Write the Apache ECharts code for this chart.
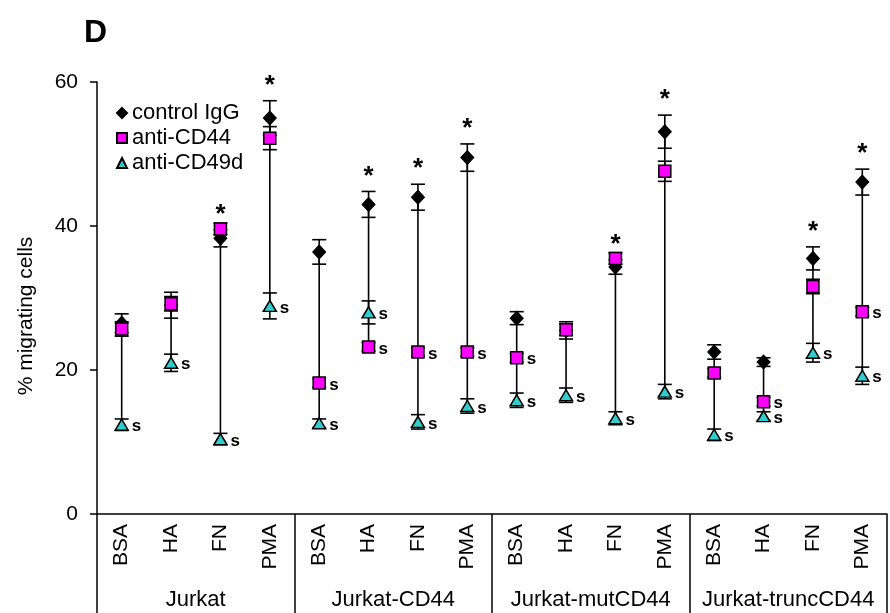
<!DOCTYPE html>
<html>
<head>
<meta charset="utf-8">
<script src="https://cdn.jsdelivr.net/npm/echarts@6/dist/echarts.min.js"></script>
<style>
  html, body { margin: 0; padding: 0; background: #fff; }
  #chart { width: 890px; height: 613px; }
</style>
</head>
<body>
<div id="chart"></div>
<script>
const categories = ['BSA','HA','FN','PMA','BSA','HA','FN','PMA','BSA','HA','FN','PMA','BSA','HA','FN','PMA'];
const groups = ['Jurkat','Jurkat-CD44','Jurkat-mutCD44','Jurkat-truncCD44'];
const yTicks = [0, 20, 40, 60];

const controlIgG    = [26.5, 29.0, 38.3, 55.0,  36.4, 43.0, 44.0, 49.5,  27.2, 25.5, 34.3, 53.1,  22.5, 21.1, 35.5, 46.1];
const controlErr    = [ 1.3,  1.8,  1.2,  2.4,   1.7,  1.8,  1.8,  1.9,   0.9,  1.2,  1.0,  2.3,   1.0,  0.6,  1.6,  1.8];
const antiCD44      = [25.7, 29.2, 39.6, 52.2,  18.2, 23.2, 22.5, 22.5,  21.7, 25.6, 35.5, 47.6,  19.6, 15.6, 31.6, 28.1];
const antiCD44Err   = [ 1.0,  1.0,  0.8,  1.6,   0.6,  0.6,  0.6,  0.6,   0.6,  0.8,  0.8,  1.4,   0.6,  0.6,  1.0,  0.6];
const antiCD49d     = [12.4, 21.0, 10.4, 28.9,  12.6, 28.0, 12.8, 15.0,  15.8, 16.5, 13.3, 17.0,  11.0, 13.6, 22.4, 19.2];
const antiCD49dErr  = [ 0.8,  1.2,  0.8,  1.8,   0.6,  1.6,  1.0,  1.0,   1.0,  1.0,  0.9,  1.0,   0.8,  0.6,  1.3,  1.2];

const starControl   = [0,0,1,1, 0,1,1,1, 0,0,1,1, 0,0,1,1];
const sAntiCD44     = [0,0,0,0, 1,1,1,1, 1,0,0,0, 0,1,0,1];
const sAntiCD49d    = [1,1,1,1, 1,1,1,1, 1,1,1,1, 1,1,1,1];

const FONT = '"Liberation Sans", Arial, sans-serif';

function errSeries(name, vals, errs, flags, mark) {
  return {
    type: 'custom',
    name: name,
    z: 2,
    silent: true,
    data: vals.map((v, i) => [i, v, errs[i], flags[i]]),
    renderItem: function (params, api) {
      const i = api.value(0), v = api.value(1), e = api.value(2), f = api.value(3);
      const top = api.coord([i, v + e]);
      const bot = api.coord([i, v - e]);
      const mid = api.coord([i, v]);
      const hw = 7;
      const ls = { stroke: '#000', lineWidth: 1.6 };
      const children = [
        { type: 'line', shape: { x1: top[0], y1: top[1], x2: bot[0], y2: bot[1] }, style: ls },
        { type: 'line', shape: { x1: top[0] - hw, y1: top[1], x2: top[0] + hw, y2: top[1] }, style: ls },
        { type: 'line', shape: { x1: bot[0] - hw, y1: bot[1], x2: bot[0] + hw, y2: bot[1] }, style: ls }
      ];
      if (f && mark === '*') {
        children.push({ type: 'text', z2: 10, style: { text: '*', x: top[0], y: top[1] - 2, align: 'center', verticalAlign: 'bottom', font: 'bold 26px ' + FONT, fill: '#000' } });
      }
      if (f && mark === 's') {
        children.push({ type: 'text', z2: 10, style: { text: 's', x: mid[0] + 10, y: mid[1] + 2, align: 'left', verticalAlign: 'middle', font: 'bold 17px ' + FONT, fill: '#000' } });
      }
      return { type: 'group', children: children };
    }
  };
}

const chart = echarts.init(document.getElementById('chart'), null, { renderer: 'canvas' });
const option = {
  animation: false,
  backgroundColor: '#fff',
  grid: { left: 97, right: 3, top: 82, bottom: 99 },
  legend: {
    data: ['control IgG', 'anti-CD44', 'anti-CD49d'],
    orient: 'vertical',
    left: 111, top: 97,
    itemWidth: 10, itemHeight: 10, itemGap: 3,
    textStyle: { fontFamily: FONT, fontSize: 22, color: '#000', lineHeight: 22 },
    selectedMode: false
  },
  xAxis: [
    {
      type: 'category', data: categories, gridIndex: 0, position: 'bottom',
      axisLine: { show: true, lineStyle: { color: '#000', width: 1.5 } },
      axisTick: { show: false },
      axisLabel: { rotate: 90, margin: 10, fontFamily: FONT, fontSize: 21, color: '#000', interval: 0 }
    },
    {
      type: 'category', data: groups, gridIndex: 0, position: 'bottom',
      axisLine: { show: false },
      axisTick: { show: true, length: 100, interval: 0, lineStyle: { color: '#000', width: 1.5 } },
      axisLabel: { margin: 75, fontFamily: FONT, fontSize: 22, color: '#000', interval: 0 }
    }
  ],
  yAxis: {
    type: 'value', min: 0, max: 60, interval: 20,
    axisLine: { show: true, lineStyle: { color: '#000', width: 1.5 } },
    axisTick: { show: true, inside: false, length: 7, lineStyle: { color: '#000', width: 1.5 } },
    axisLabel: { margin: 19, fontFamily: FONT, fontSize: 21, color: '#000',
                 formatter: v => (yTicks.indexOf(v) >= 0 ? String(v) : '') },
    splitLine: { show: false }
  },
  graphic: [
    { type: 'text', left: 84, top: 17, style: { text: 'D', font: 'bold 32px ' + FONT, fill: '#000' } },
    { type: 'text', x: 26, y: 316, rotation: Math.PI / 2,
      style: { text: '% migrating cells', font: '21px ' + FONT, fill: '#000', align: 'center', verticalAlign: 'middle' } }
  ],
  series: [
    {
      type: 'custom', name: 'range', z: 1, silent: true,
      data: categories.map((c, i) => {
        const vals = [controlIgG[i], antiCD44[i], antiCD49d[i]];
        return [i, Math.min.apply(null, vals), Math.max.apply(null, vals)];
      }),
      renderItem: function (params, api) {
        const a = api.coord([api.value(0), api.value(1)]);
        const b = api.coord([api.value(0), api.value(2)]);
        return { type: 'line', shape: { x1: a[0], y1: a[1], x2: b[0], y2: b[1] }, style: { stroke: '#000', lineWidth: 1.6 } };
      }
    },
    errSeries('err-control', controlIgG, controlErr, starControl, '*'),
    errSeries('err-cd44', antiCD44, antiCD44Err, sAntiCD44, 's'),
    errSeries('err-cd49d', antiCD49d, antiCD49dErr, sAntiCD49d, 's'),
    {
      type: 'scatter', name: 'control IgG', z: 5, data: controlIgG,
      symbol: 'diamond', symbolSize: [13, 14],
      itemStyle: { color: '#000', borderColor: '#000', borderWidth: 1, opacity: 1 }
    },
    {
      type: 'scatter', name: 'anti-CD44', z: 6, data: antiCD44,
      symbol: 'rect', symbolSize: 12,
      itemStyle: { color: '#ff00ff', borderColor: '#000', borderWidth: 1.5, opacity: 1 }
    },
    {
      type: 'scatter', name: 'anti-CD49d', z: 7, data: antiCD49d,
      symbol: 'triangle', symbolSize: [13, 11],
      itemStyle: { color: '#33cccc', borderColor: '#000', borderWidth: 1.5, opacity: 1 }
    }
  ]
};
chart.setOption(option);
</script>
</body>
</html>
